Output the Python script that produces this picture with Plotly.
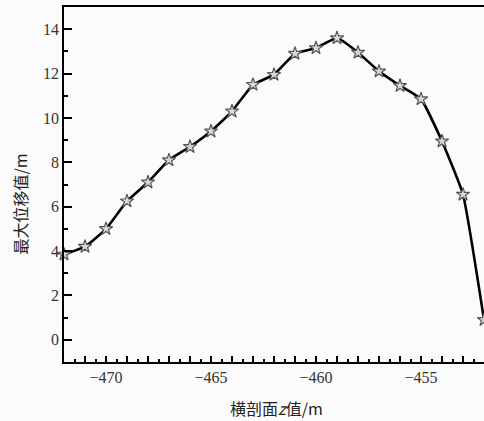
import plotly.graph_objects as go

z_values = [-472, -471, -470, -469, -468, -467, -466, -465, -464, -463, -462,
            -461, -460, -459, -458, -457, -456, -455, -454, -453, -452]
max_disp = [3.85, 4.2, 5.0, 6.25, 7.1, 8.1, 8.7, 9.4, 10.3, 11.5, 11.95,
            12.9, 13.15, 13.6, 12.95, 12.1, 11.45, 10.85, 8.95, 6.55, 0.9]

x_tick_vals = list(range(-472, -451))
x_tick_text = [str(v).replace("-", "\u2212") if v % 5 == 0 else "" for v in x_tick_vals]
x_minor_vals = [v + 0.5 for v in range(-472, -452)]
y_tick_vals = [0, 2, 4, 6, 8, 10, 12, 14]
y_minor_vals = [-1, 1, 3, 5, 7, 9, 11, 13, 15]

serif = "Liberation Serif, Times New Roman, serif"
cjk = "Noto Sans CJK SC"

fig = go.Figure()
fig.add_trace(go.Scatter(
    x=z_values, y=max_disp, mode="lines+markers",
    line=dict(color="black", width=2.6, shape="spline", smoothing=0.4),
    marker=dict(symbol="star", size=10, color="#d8d8d8",
                line=dict(color="#555555", width=1.2)),
    cliponaxis=False, showlegend=False,
))

fig.update_layout(
    width=484, height=421,
    margin=dict(l=64, r=0, t=7, b=59),
    paper_bgcolor="#fbfbfb", plot_bgcolor="#fbfbfb",
    font=dict(family=serif, size=16, color="#333333"),
    annotations=[
        dict(text="最大位移值/m", xref="paper", yref="paper", x=0, y=0.5,
             xanchor="center", yanchor="middle", xshift=-45, yshift=-20,
             textangle=-90, showarrow=False,
             font=dict(family=cjk, size=16, color="#222222")),
        dict(text="横剖面<i>z</i>值/m", xref="paper", yref="paper", x=0.5, y=0,
             xanchor="center", yanchor="middle", yshift=-46, xshift=2,
             showarrow=False,
             font=dict(family=cjk, size=16, color="#222222")),
    ],
)
fig.update_xaxes(
    range=[-472, -452], tickmode="array", tickvals=x_tick_vals, ticktext=x_tick_text,
    ticks="inside", ticklen=6, tickwidth=1.5, tickcolor="black",
    minor=dict(ticks="inside", ticklen=3, tickwidth=1.5, tickcolor="black",
               tickmode="array", tickvals=x_minor_vals),
    showline=True, linecolor="black", linewidth=1.8, mirror=True,
    showgrid=False, zeroline=False,
)
fig.update_yaxes(
    range=[-1, 15], tickmode="array", tickvals=y_tick_vals,
    ticks="inside", ticklen=8, tickwidth=1.5, tickcolor="black",
    minor=dict(ticks="inside", ticklen=4, tickwidth=1.5, tickcolor="black",
               tickmode="array", tickvals=y_minor_vals),
    showline=True, linecolor="black", linewidth=1.8,
    showgrid=False, zeroline=False,
)

fig.write_html("out.html")
